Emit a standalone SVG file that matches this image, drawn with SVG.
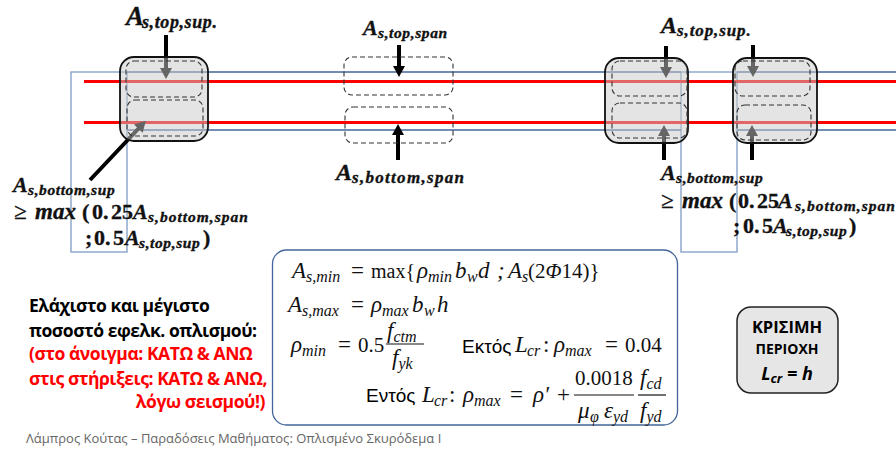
<svg xmlns="http://www.w3.org/2000/svg" width="896" height="449" viewBox="0 0 896 449">
<defs>
<marker id="ah" markerUnits="userSpaceOnUse" markerWidth="12" markerHeight="12" refX="1" refY="6" orient="auto"><path d="M0 0L11 6L0 12Z" fill="#000"/></marker>
</defs>
<style>
.blue{stroke:#44659a;stroke-width:1.5;fill:none}
.col{stroke:#7f9cc4;stroke-width:1.3;fill:none}
.red{stroke:#f00;stroke-width:3;fill:none}
.arr{stroke:#000;stroke-width:4;fill:none;marker-end:url(#ah)}
.joint{fill:#c9c9c9;fill-opacity:.5;stroke:#111;stroke-width:1.8}
.dash{fill:none;stroke:#333;stroke-width:1.1;stroke-dasharray:5 3}
.m{font-family:"Liberation Serif",serif;font-weight:700;font-style:italic;fill:#111;stroke:#111;stroke-width:.35}
.a{font-size:27px}.a2{font-size:24px}.a3{font-size:22px}
.s{font-size:18px;letter-spacing:.6px}.s2{font-size:17px;letter-spacing:.9px}.s3{font-size:15.5px;letter-spacing:.6px}
.w{letter-spacing:1.3px}.w3{letter-spacing:1px}
.b{font-size:23px}
.n{font-style:normal;font-size:22px;word-spacing:-3px}
.f{font-family:"Liberation Serif",serif;font-style:italic;font-size:23px;fill:#111}
.u{font-style:normal}
.d{font-style:normal;font-size:21px}
.x{font-style:normal;font-size:20px}
.fs{font-size:16px}
.g{font-family:"Liberation Sans",sans-serif;fill:#000;font-size:19px}
.h{font-family:"Open Sans","Liberation Sans",sans-serif;font-weight:700;font-size:17.5px;letter-spacing:-.45px}
.k{font-family:"Open Sans","Liberation Sans",sans-serif;font-weight:700;fill:#000}
.fr{stroke:#111;stroke-width:1.2}
</style>
<g id="structure">
<rect class="col" x="71" y="72" width="56" height="180"/>
<rect class="col" x="681" y="72" width="56" height="180"/>
<path class="blue" d="M127 72H681M737 72H896M127 130H681M737 130H896"/>
<path class="red" d="M84 81.500H896M84 122.500H896"/>
</g>
<g id="connectors">
<path class="arr" d="M166 35V69"/>
<path class="arr" d="M90 180L139 128"/>
<path class="arr" d="M399 45V67"/>
<path class="arr" d="M398 160V134"/>
<path class="arr" d="M666 46V68"/>
<path class="arr" d="M664 160V135"/>
<path class="arr" d="M753 45V67"/>
<path class="arr" d="M752 160V135"/>
</g>
<g id="joint-left">
<rect class="joint" x="120" y="57" width="88" height="84" rx="14"/>
<rect class="dash" x="126" y="61" width="76" height="36" rx="8"/>
<rect class="dash" x="127" y="100" width="76" height="36" rx="8"/>
</g>
<g id="span-zones">
<rect class="dash" x="344" y="57" width="109" height="38" rx="8"/>
<rect class="dash" x="345" y="107" width="108" height="36" rx="8"/>
</g>
<g id="joint-mid">
<rect class="joint" x="605" y="58" width="83" height="85" rx="14"/>
<rect class="dash" x="612" y="61" width="75" height="35" rx="8"/>
<rect class="dash" x="612" y="103" width="75" height="35" rx="8"/>
</g>
<g id="joint-right">
<rect class="joint" x="733" y="58" width="84" height="85" rx="14"/>
<rect class="dash" x="735" y="61" width="75" height="35" rx="8"/>
<rect class="dash" x="737" y="105" width="74" height="35" rx="8"/>
</g>
<g id="label-top-left"><text class="m" x="126" y="25"><tspan class="a">A</tspan><tspan class="s" x="142" dy="3">s,top,sup.</tspan></text></g>
<g id="label-bottom-left">
<text class="m" x="13" y="192"><tspan class="a3">A</tspan><tspan class="s3" x="28" dy="3">s,bottom,sup</tspan></text>
<text class="m" y="219"><tspan class="b" x="14" font-weight="400">≥</tspan><tspan class="b" x="35">max</tspan><tspan class="n" x="82">(</tspan><tspan class="n" x="92">0. 25</tspan><tspan class="a3" x="133">A</tspan><tspan class="s3 w3" x="148" dy="3">s,bottom,span</tspan></text>
<text class="m" y="245"><tspan class="n" x="85">;</tspan><tspan class="n" x="94">0. 5</tspan><tspan class="a3" x="125">A</tspan><tspan class="s3" x="139" dy="3">s,top,sup</tspan><tspan class="n" x="203" dy="-3">)</tspan></text>
</g>
<g id="label-top-span"><text class="m" x="363" y="35"><tspan class="a3">A</tspan><tspan class="s3" x="378" dy="3">s,top,span</tspan></text></g>
<g id="label-bottom-span"><text class="m" x="336" y="180"><tspan class="a2">A</tspan><tspan class="s2 w" x="352" dy="3">s,bottom,span</tspan></text></g>
<g id="label-top-right"><text class="m" x="661" y="33"><tspan class="a2">A</tspan><tspan class="s2" x="677" dy="3">s,top,sup.</tspan></text></g>
<g id="label-bottom-right">
<text class="m" x="661" y="180"><tspan class="a3">A</tspan><tspan class="s3" x="676" dy="3">s,bottom,sup</tspan></text>
<text class="m" y="208"><tspan class="b" x="661" font-weight="400">≥</tspan><tspan class="b" x="682">max</tspan><tspan class="n" x="729">(</tspan><tspan class="n" x="738">0. 25</tspan><tspan class="a3" x="778">A</tspan><tspan class="s3 w3" x="795" dy="3">s,bottom,span</tspan></text>
<text class="m" y="233"><tspan class="n" x="733">;</tspan><tspan class="n" x="743">0. 5</tspan><tspan class="a3" x="773">A</tspan><tspan class="s3" x="786" dy="3">s,top,sup</tspan><tspan class="n" x="849" dy="-3">)</tspan></text>
</g>
<g id="formula-box">
<rect x="272.500" y="250" width="405" height="175" rx="14" fill="#fff" stroke="#44659a" stroke-width="1.3"/>
<text class="f" y="278"><tspan x="292">A</tspan><tspan class="fs" x="306" dy="4">s,min</tspan><tspan class="u" x="351" dy="-4">=</tspan><tspan class="x" x="371">max{</tspan><tspan x="417">ρ</tspan><tspan class="fs" x="428" dy="4">min</tspan><tspan x="455" dy="-4">b</tspan><tspan class="fs" x="467" dy="4">w</tspan><tspan x="478" dy="-4">d</tspan><tspan x="497">;</tspan><tspan x="508">A</tspan><tspan class="fs" x="522" dy="4">s</tspan><tspan class="d" x="528" dy="-4">(2</tspan><tspan style="font-size:21px">Φ</tspan><tspan class="d">14)}</tspan></text>
<text class="f" y="312"><tspan x="288">A</tspan><tspan class="fs" x="302" dy="4">s,max</tspan><tspan class="u" x="351" dy="-4">=</tspan><tspan x="371">ρ</tspan><tspan class="fs" x="382" dy="4">max</tspan><tspan x="412" dy="-4">b</tspan><tspan class="fs" x="424" dy="4">w</tspan><tspan x="437" dy="-4">h</tspan></text>
<text class="f" y="352"><tspan x="291">ρ</tspan><tspan class="fs" x="302" dy="4">min</tspan><tspan class="u" x="338" dy="-4">=</tspan><tspan class="d" x="358">0.5</tspan></text>
<text class="f" x="387" y="338">f<tspan class="fs" dy="4">ctm</tspan></text>
<line class="fr" x1="386" y1="344" x2="424" y2="344"/>
<text class="f" x="392" y="365">f<tspan class="fs" dy="4">yk</tspan></text>
<text class="g" x="462" y="353">Εκτός</text>
<text class="f" y="352"><tspan x="515">L</tspan><tspan class="fs" x="527" dy="4">cr</tspan><tspan class="u" x="543" dy="-4">:</tspan><tspan x="554">ρ</tspan><tspan class="fs" x="565" dy="4">max</tspan><tspan class="u" x="605" dy="-4">=</tspan><tspan class="d" x="625">0.04</tspan></text>
<text class="g" x="366" y="402">Εντός</text>
<text class="f" y="402"><tspan x="422">L</tspan><tspan class="fs" x="434" dy="4">cr</tspan><tspan class="u" x="449" dy="-4">:</tspan><tspan x="463">ρ</tspan><tspan class="fs" x="474" dy="4">max</tspan><tspan class="u" x="510" dy="-4">=</tspan><tspan x="533">ρ′</tspan><tspan class="u" x="557">+</tspan></text>
<text class="f d" x="575" y="385">0.0018</text>
<line class="fr" x1="574" y1="395" x2="634" y2="395"/>
<text class="f" y="418"><tspan x="578">μ</tspan><tspan class="fs" x="590" dy="4">φ</tspan><tspan x="604" dy="-4">ε</tspan><tspan class="fs" x="613" dy="4">yd</tspan></text>
<text class="f" x="640" y="385">f<tspan class="fs" dy="4">cd</tspan></text>
<line class="fr" x1="638" y1="395" x2="666" y2="395"/>
<text class="f" x="640" y="418">f<tspan class="fs" dy="4">yd</tspan></text>
</g>
<g id="note">
<text class="h" x="29" y="312" fill="#000">Ελάχιστο και μέγιστο</text>
<text class="h" x="29" y="337" fill="#000">ποσοστό εφελκ. οπλισμού:</text>
<text class="h" x="29" y="360" fill="#f00">(στο άνοιγμα: ΚΑΤΩ &amp; ΑΝΩ</text>
<text class="h" x="29" y="385" fill="#f00">στις στήριξεις: ΚΑΤΩ &amp; ΑΝΩ,</text>
<text class="h" x="265" y="408" fill="#f00" text-anchor="end">λόγω σεισμού!)</text>
</g>
<g id="critical-zone">
<rect x="737" y="307" width="101" height="86" rx="14" fill="#e6e6e6" stroke="#222" stroke-width="1.5"/>
<text class="k" x="787" y="333" text-anchor="middle" font-size="16.500">ΚΡΙΣΙΜΗ</text>
<text class="k" x="787" y="354" text-anchor="middle" font-size="14">ΠΕΡΙΟΧΗ</text>
<text class="k" x="787" y="380" text-anchor="middle" font-size="18" font-style="italic">L<tspan font-size="13" dy="3">cr</tspan><tspan dy="-3"> = h</tspan></text>
</g>
<g id="footer"><text x="26" y="443" font-family="Open Sans,Liberation Sans,sans-serif" font-size="13" fill="#666">Λάμπρος Κούτας – Παραδόσεις Μαθήματος: Οπλισμένο Σκυρόδεμα Ι</text></g>
</svg>
